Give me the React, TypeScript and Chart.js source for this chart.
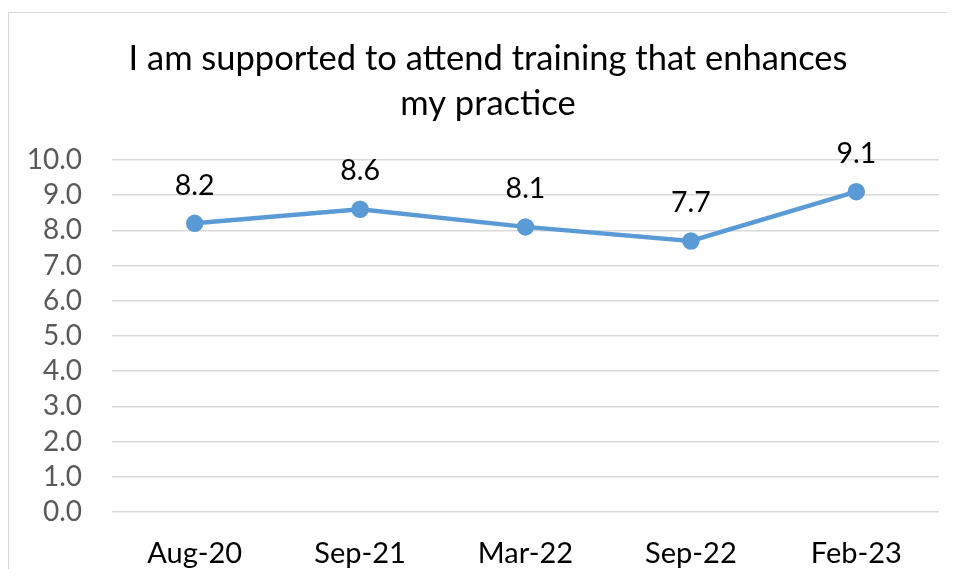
import React, { useEffect, useRef } from "react";
import { Chart, registerables } from "chart.js";

Chart.register(...registerables);

const categories = ["Aug-20", "Sep-21", "Mar-22", "Sep-22", "Feb-23"];
const values = [8.2, 8.6, 8.1, 7.7, 9.1];
const titleLines = ["I am supported to attend training that enhances", "my practice"];
const yMin = 0;
const yMax = 10;
const yStep = 1;

const FONT = "Lato, 'Open Sans', sans-serif";

export default function App() {
  const ref = useRef<HTMLCanvasElement | null>(null);

  useEffect(() => {
    document.documentElement.style.overflow = "hidden";
    const canvas = ref.current;
    if (!canvas) return;

    const titlePlugin = {
      id: "customTitle",
      afterDraw(chart: any) {
        const ctx = chart.ctx;
        ctx.save();
        ctx.fillStyle = "#000000";
        ctx.font = `34.5px ${FONT}`;
        ctx.textAlign = "center";
        ctx.textBaseline = "middle";
        const cx = 479;
        titleLines.forEach((line, i) => {
          ctx.fillText(line, cx, 46 + i * 45);
        });
        ctx.restore();
      },
    };

    const labelPlugin = {
      id: "dataLabels",
      afterDatasetsDraw(chart: any) {
        const ctx = chart.ctx;
        const meta = chart.getDatasetMeta(0);
        ctx.save();
        ctx.fillStyle = "#000000";
        ctx.font = `28.5px ${FONT}`;
        ctx.textAlign = "center";
        ctx.textBaseline = "middle";
        meta.data.forEach((pt: any, i: number) => {
          ctx.fillText(values[i].toFixed(1), pt.x, pt.y - 38);
        });
        ctx.restore();
      },
    };

    const chart = new Chart(canvas, {
      type: "line",
      data: {
        labels: categories,
        datasets: [
          {
            data: values,
            borderColor: "#5B9BD5",
            backgroundColor: "#5B9BD5",
            borderWidth: 4.5,
            pointRadius: 6.5,
            pointBackgroundColor: "#5B9BD5",
            pointBorderColor: "#5B9BD5",
            tension: 0,
          },
        ],
      },
      options: {
        animation: false,
        responsive: false,
        devicePixelRatio: 1,
        layout: { padding: { top: 147, right: 17, bottom: 0, left: 0 } },
        plugins: {
          legend: { display: false },
          title: { display: false },
          tooltip: { enabled: false },
        },
        scales: {
          x: {
            offset: true,
            grid: { display: false, drawTicks: false },
            border: { display: false },
            ticks: {
              color: "#000000",
              font: { family: FONT, size: 29 },
              padding: 24,
              maxRotation: 0,
              autoSkip: false,
            },
            afterFit(scale: any) {
              scale.height = 57;
            },
          },
          y: {
            min: yMin,
            max: yMax,
            grid: { color: "#d9d9d9", lineWidth: 1.5, drawTicks: false },
            border: { display: false },
            ticks: {
              stepSize: yStep,
              autoSkip: false,
              color: "#595959",
              font: { family: FONT, size: 28 },
              padding: 30,
              callback: (v: any) => Number(v).toFixed(1),
            },
            afterFit(scale: any) {
              scale.width = 103;
            },
          },
        },
      },
      plugins: [titlePlugin, labelPlugin],
    });

    return () => chart.destroy();
  }, []);

  return (
    <div
      style={{
        marginTop: 4,
        borderTop: "1px solid #d9d9d9",
        borderLeft: "1px solid #d9d9d9",
        width: 947,
        height: 556,
        background: "#ffffff",
      }}
    >
      <canvas ref={ref} width={947} height={556} style={{ display: "block" }} />
    </div>
  );
}
